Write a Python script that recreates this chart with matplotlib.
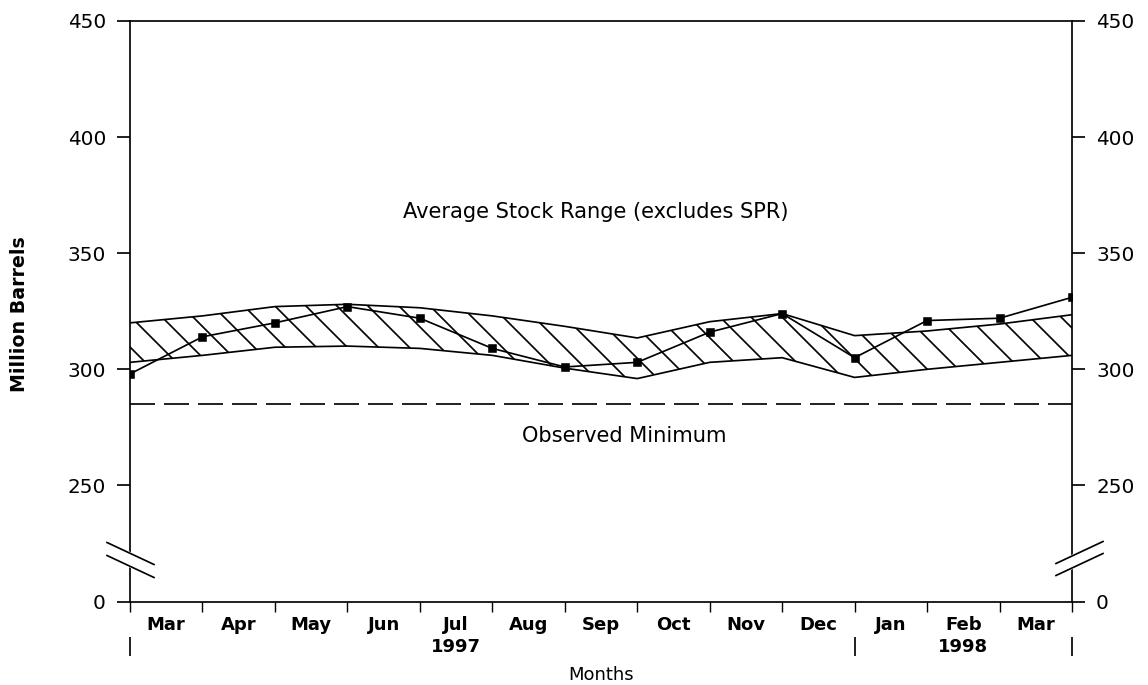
import matplotlib
matplotlib.use("Agg")
import matplotlib.pyplot as plt
import numpy as np

# figure is built at a high dpi so the hatch gets the wide spacing of the original
DPI = 186
W, H = 1148, 685


def pt(px):
    """pixels -> points at this dpi"""
    return px * 72.0 / DPI


# month-end values, Feb 1997 .. Mar 1998 (million barrels)
months = ["Mar", "Apr", "May", "Jun", "Jul", "Aug", "Sep", "Oct", "Nov", "Dec",
          "Jan", "Feb", "Mar"]
years = ["1997", "1998"]
year_centers = [4.5, 11.5]
year_bounds = [0, 10, 13]
stock = [298, 314, 320, 327, 322, 309, 301, 303, 316, 324, 305, 321, 322, 331]
range_high = [320, 323, 327, 328, 326.5, 323, 318.5, 313.5, 320.5, 324, 314.5, 316.5, 319.5, 323.5]
range_low = [303, 306, 309.5, 310, 309, 306, 300.5, 296, 303, 305, 296.5, 300, 303, 306]
observed_min = [285] * 14
y_ticks = [200, 250, 300, 350, 400, 450]
y_tick_labels = ["0", "250", "300", "350", "400", "450"]

LW = pt(1.7)
plt.rcParams["font.family"] = "DejaVu Sans"
plt.rcParams["hatch.linewidth"] = LW
plt.rcParams["lines.scale_dashes"] = False

fig = plt.figure(figsize=(W / DPI, H / DPI), dpi=DPI)
ax_w, ax_h = 942.0, 580.5
ax = fig.add_axes([130 / W, 1 - 601.5 / H, ax_w / W, ax_h / H])
x = np.arange(len(stock))

# average stock range band
ax.fill_between(x, range_low, range_high, facecolor="white", edgecolor="black",
                hatch="\\\\", linewidth=0)
ax.plot(x, range_high, color="black", lw=LW)
ax.plot(x, range_low, color="black", lw=LW)

# observed minimum
ax.plot(x, observed_min, color="black", lw=LW, dashes=(pt(25), pt(9)))

# actual stocks
ax.plot(x, stock, color="black", lw=LW, marker="s", ms=pt(7), mfc="black", mec="black")

ax.text(3.77, 367.6, "Average Stock Range (excludes SPR)", ha="left", va="center",
        fontsize=pt(21))
ax.text(5.41, 271.4, "Observed Minimum", ha="left", va="center", fontsize=pt(21))

ax.set_xlim(0, 13)
ax.set_ylim(200, 450)
for s in ax.spines.values():
    s.set_linewidth(LW)

ax.set_yticks(y_ticks)
ax.set_yticklabels(y_tick_labels)
ax.tick_params(axis="y", direction="out", length=pt(13), width=LW, left=True, right=True,
               labelleft=True, labelright=True, labelsize=pt(20), pad=pt(11))

ax.set_xticks(x)
ax.set_xticklabels([])
ax.tick_params(axis="x", which="major", direction="out", length=pt(10), width=pt(1.4))
ax.set_xticks(np.arange(13) + 0.5, minor=True)
ax.set_xticklabels(months, minor=True, fontweight="bold", fontsize=pt(18))
ax.tick_params(axis="x", which="minor", length=0, pad=pt(15))

for c, yr in zip(year_centers, years):
    ax.annotate(yr, xy=(c, 0), xycoords=ax.get_xaxis_transform(), xytext=(0, -pt(46)),
                textcoords="offset points", ha="center", va="center",
                fontweight="bold", fontsize=pt(18))
ax.vlines(year_bounds, -54.5 / ax_h, -35.5 / ax_h, transform=ax.get_xaxis_transform(),
          colors="black", lw=LW, clip_on=False)


# axis break marks (pixel offsets from the bottom corner of each side)
def axis_break(x0, l1, l2):
    pts1 = [(x0 + px / ax_w, py / ax_h) for px, py in l1]
    pts2 = [(x0 + px / ax_w, py / ax_h) for px, py in l2]
    ax.fill([p[0] for p in pts1 + pts2[::-1]], [p[1] for p in pts1 + pts2[::-1]],
            color="white", transform=ax.transAxes, clip_on=False, zorder=5)
    for seg in (pts1, pts2):
        ax.plot([p[0] for p in seg], [p[1] for p in seg], color="black", lw=LW,
                transform=ax.transAxes, clip_on=False, zorder=6)


axis_break(0, [(-23, 59), (24, 37)], [(-23, 46), (24, 24)])
axis_break(1, [(-16, 38), (31, 60)], [(-16, 26), (31, 48)])

fig.text(20 / W, 1 - 314 / H, "Million Barrels", rotation=90, ha="center", va="center",
         fontweight="bold", fontsize=pt(19))
fig.text(601 / W, 1 - 675 / H, "Months", ha="center", va="center", fontsize=pt(18))

fig.savefig("out.png", dpi=DPI, facecolor="white")
